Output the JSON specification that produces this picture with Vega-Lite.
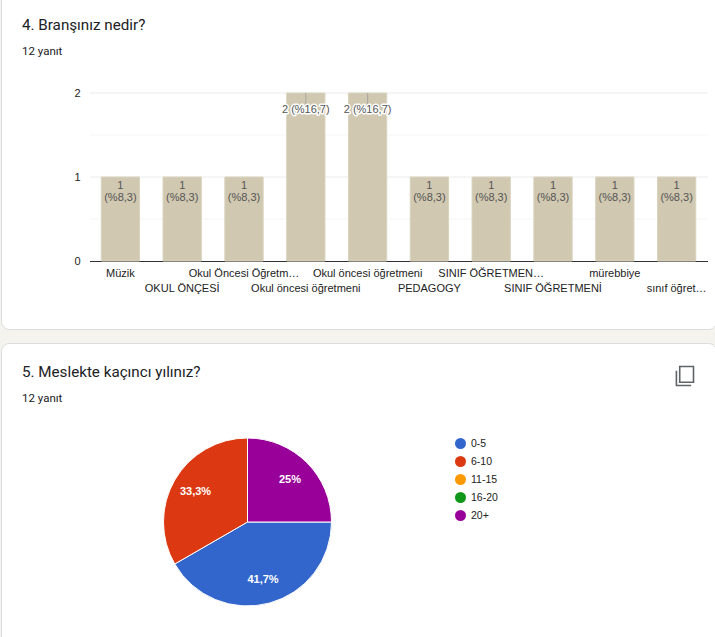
{
  "$schema": "https://vega.github.io/schema/vega-lite/v6.json",
  "background": "#f4f3ee",
  "padding": {"left": 0, "right": 0, "top": -10, "bottom": -10},
  "spacing": 12,
  "resolve": {"scale": {"color": "independent"}, "legend": {"color": "independent"}},
  "config": {
    "font": "Liberation Sans",
    "title": {"font": "Roboto", "fontSize": 15.2, "fontWeight": 400, "color": "#202124", "subtitleFont": "Roboto", "subtitleFontSize": 11.5, "subtitleColor": "#202124", "subtitlePadding": 12, "anchor": "start", "frame": "group", "dx": 21}
  },
  "vconcat": [
    {
      "width": 715,
      "height": 338,
      "view": {"fill": "white", "stroke": "#dadce0", "cornerRadius": 8},
      "title": {"text": "4. Branşınız nedir?", "subtitle": "12 yanıt", "offset": -66},
      "encoding": {
        "y": {
          "field": "value",
          "type": "quantitative",
          "title": null,
          "scale": {"domain": [0, 2], "range": [270, 102]},
          "axis": {"tickCount": 2, "tickMinStep": 1, "format": "d", "offset": -89, "domain": false, "ticks": false, "grid": false, "labelOverlap": false, "labelBound": false, "labelPadding": 10, "labelFontSize": 11, "labelColor": "#222222"}
        }
      },
      "layer": [
        {
          "data": {"values": [
            {"value": 0.5, "from": 0, "to": 1, "kind": "minor"},
            {"value": 1, "from": 0, "to": 1, "kind": "major"},
            {"value": 1.5, "from": 0, "to": 1, "kind": "minor"},
            {"value": 2, "from": 0, "to": 1, "kind": "major"}
          ]},
          "mark": {"type": "rule", "strokeWidth": 1},
          "encoding": {
            "x": {"field": "from", "type": "quantitative", "scale": {"domain": [0, 1], "range": [89, 707]}, "axis": null},
            "x2": {"field": "to"},
            "color": {"field": "kind", "type": "nominal", "scale": {"domain": ["major", "minor"], "range": ["#ebebeb", "#f5f5f5"]}, "legend": null}
          }
        },
        {
          "data": {"values": [
            {"branch": "Müzik", "value": 1, "share": "1\n(%8,3)"},
            {"branch": "OKUL ÖNÇESİ", "value": 1, "share": "1\n(%8,3)"},
            {"branch": "Okul Öncesi Öğretm…", "value": 1, "share": "1\n(%8,3)"},
            {"branch": "Okul öncesi öğretmeni", "value": 2, "share": "2 (%16,7)"},
            {"branch": "Okul öncesi öğretmeni ", "value": 2, "share": "2 (%16,7)"},
            {"branch": "PEDAGOGY", "value": 1, "share": "1\n(%8,3)"},
            {"branch": "SINIF ÖĞRETMEN…", "value": 1, "share": "1\n(%8,3)"},
            {"branch": "SINIF ÖĞRETMENİ", "value": 1, "share": "1\n(%8,3)"},
            {"branch": "mürebbiye", "value": 1, "share": "1\n(%8,3)"},
            {"branch": "sınıf öğret…", "value": 1, "share": "1\n(%8,3)"}
          ]},
          "encoding": {
            "x": {
              "field": "branch",
              "type": "nominal",
              "title": null,
              "sort": null,
              "scale": {"type": "band", "range": [88.5, 706.5], "paddingInner": 0.38, "paddingOuter": 0.19},
              "axis": {
                "orient": "bottom",
                "offset": -68,
                "labelAngle": 0,
                "ticks": false,
                "grid": false,
                "domainColor": "#333333",
                "labelFontSize": 11,
                "labelColor": "#222222",
                "labelPadding": 6,
                "labelLimit": 200,
                "labelOverlap": false,
                "labelLineHeight": 15,
                "labelBaseline": "top",
                "labelExpr": "indexof(['OKUL ÖNÇESİ', 'Okul öncesi öğretmeni', 'PEDAGOGY', 'SINIF ÖĞRETMENİ', 'sınıf öğret…'], datum.value) >= 0 ? ['', datum.label] : [datum.label, '']"
              }
            }
          },
          "layer": [
            {"mark": {"type": "bar", "color": "#d0c8b0", "stroke": "#d9d3bf", "strokeWidth": 1}},
            {
              "transform": [{"filter": "datum.value == 2"}],
              "mark": {"type": "tick", "orient": "vertical", "size": 12, "thickness": 1, "yOffset": 6, "color": "#999999"}
            },
            {
              "transform": [{"filter": "datum.value == 2"}],
              "mark": {"type": "text", "baseline": "top", "dy": 11, "fontSize": 11, "stroke": "white", "strokeWidth": 3, "strokeJoin": "round"},
              "encoding": {"text": {"field": "share"}}
            },
            {
              "transform": [{"filter": "datum.value == 2"}],
              "mark": {"type": "text", "baseline": "top", "dy": 11, "fontSize": 11, "color": "#555555"},
              "encoding": {"text": {"field": "share"}}
            },
            {
              "transform": [{"filter": "datum.value == 1"}],
              "mark": {"type": "text", "baseline": "top", "dy": 3, "fontSize": 11, "lineHeight": 12, "lineBreak": "\n", "color": "#555555"},
              "encoding": {"text": {"field": "share"}}
            }
          ]
        }
      ],
      "resolve": {"scale": {"x": "independent"}, "axis": {"x": "independent"}}
    },
    {
      "width": 715,
      "height": 304,
      "view": {"fill": "white", "stroke": "#dadce0", "cornerRadius": 8},
      "title": {"text": "5. Meslekte kaçıncı yılınız?", "subtitle": "12 yanıt", "offset": -61},
      "layer": [
        {
          "data": {"name": "years", "values": [
            {"question": "5", "years": "0-5", "count": 5, "pct": "41,7%", "rank": 1},
            {"question": "5", "years": "6-10", "count": 4, "pct": "33,3%", "rank": 2},
            {"question": "5", "years": "11-15", "count": 0, "pct": "", "rank": 3},
            {"question": "5", "years": "16-20", "count": 0, "pct": "", "rank": 4},
            {"question": "5", "years": "20+", "count": 3, "pct": "25%", "rank": 5}
          ]},
          "encoding": {
            "x": {"field": "question", "type": "nominal", "scale": {"type": "point", "range": [246.5, 246.5]}, "axis": null},
            "y": {"field": "question", "type": "nominal", "scale": {"type": "point", "range": [179, 179]}, "axis": null},
            "theta": {"field": "count", "type": "quantitative", "stack": true, "scale": {"domain": [0, 12], "range": [1.5708, 7.854]}},
            "order": {"field": "rank", "type": "ordinal"}
          },
          "layer": [
            {
              "mark": {"type": "arc", "outerRadius": 84, "stroke": "white", "strokeWidth": 1},
              "encoding": {
                "color": {
                  "field": "years",
                  "type": "nominal",
                  "scale": {"domain": ["0-5", "6-10", "11-15", "16-20", "20+"], "range": ["#3366cc", "#dc3912", "#ff9900", "#109618", "#990099"]},
                  "legend": {"orient": "none", "legendX": 454, "legendY": 95, "title": null, "symbolType": "circle", "symbolSize": 121, "symbolStrokeWidth": 0, "labelFontSize": 10.5, "labelColor": "#222222", "rowPadding": 7, "labelOffset": 5}
                }
              }
            },
            {
              "transform": [{"filter": "datum.count > 0"}],
              "mark": {"type": "text", "radius": 60, "color": "white", "fontSize": 11, "fontWeight": "bold"},
              "encoding": {"text": {"field": "pct"}}
            }
          ]
        },
        {
          "data": {"values": [{"icon": "copy"}]},
          "mark": {"type": "point", "filled": false, "stroke": "#5f6368", "strokeWidth": 1.6, "opacity": 1, "size": 361, "shape": "M -0.45 -1 H 1 V 0.65 H -0.45 Z M -0.8 -0.55 V 1 H 0.75"},
          "encoding": {
            "x": {"field": "icon", "type": "nominal", "scale": {"type": "point", "range": [683, 683]}, "axis": null},
            "y": {"field": "icon", "type": "nominal", "scale": {"type": "point", "range": [33, 33]}, "axis": null}
          }
        }
      ],
      "resolve": {"scale": {"x": "independent", "y": "independent"}}
    }
  ]
}
